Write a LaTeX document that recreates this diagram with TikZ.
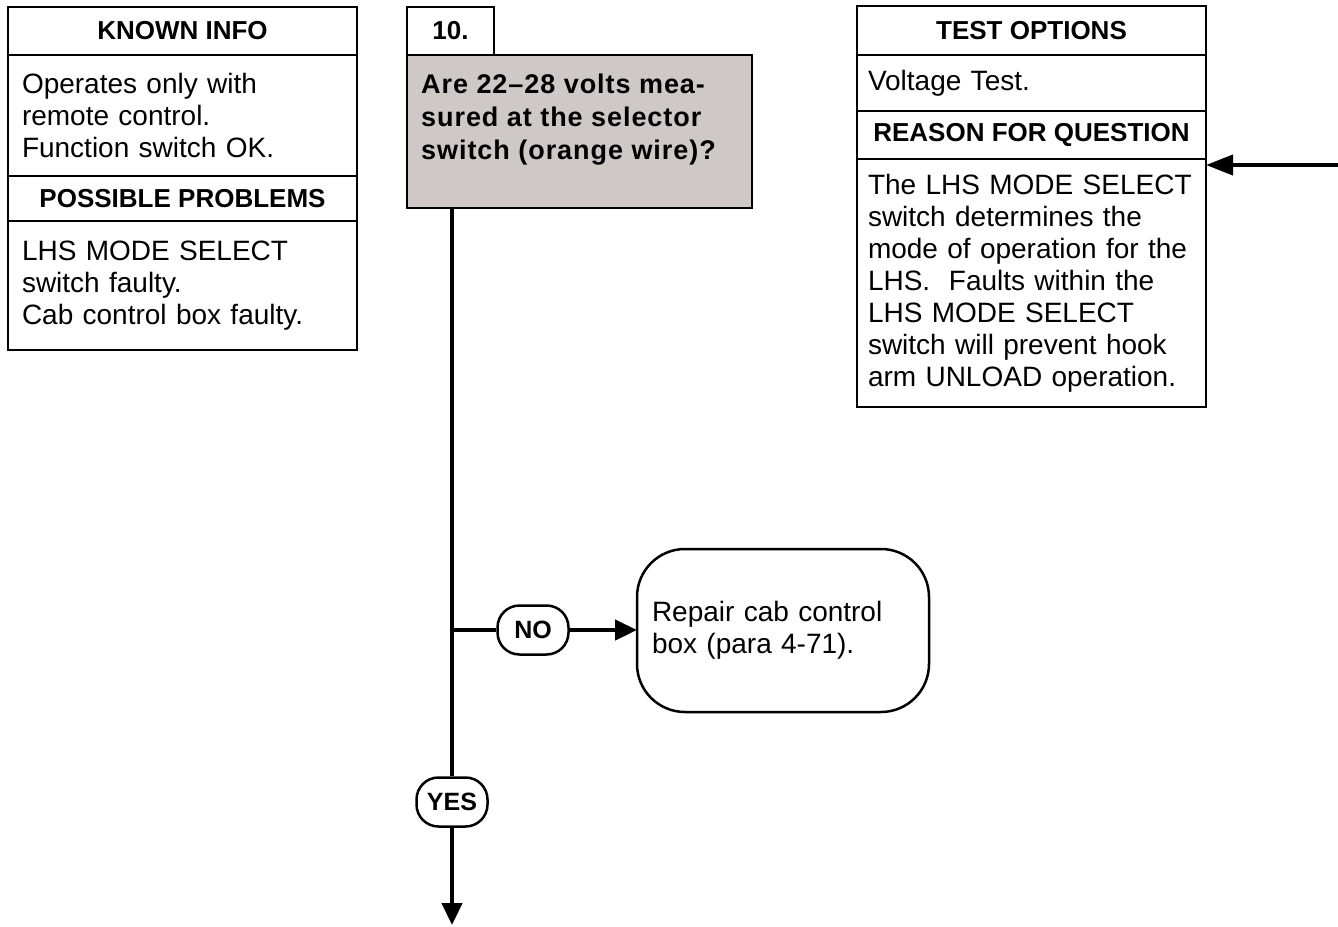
\documentclass[tikz,border=0pt]{standalone}
\usepackage{fontspec}
\setmainfont{Liberation Sans}
\newfontfamily\qfont[LetterSpace=3.5, Ligatures=TeX]{Liberation Sans}
\usetikzlibrary{arrows.meta, positioning}
\definecolor{qgrey}{RGB}{206,200,199}
\tikzstyle{arrow}=[-{Triangle[length=22pt,width=20pt]}, line width=4.5pt]
\tikzstyle{flow}=[line width=4.5pt]

\begin{document}
\begin{tikzpicture}[x=1pt, y=-1pt,
  head/.style={rectangle, draw, line width=2.5pt, outer sep=0pt, inner sep=0pt,
               minimum width=349pt, minimum height=48pt,
               font=\fontsize{26}{30}\selectfont\bfseries},
  body/.style={rectangle, draw, line width=2.5pt, outer sep=0pt, inner xsep=14pt,
               inner ysep=0pt, text width=321pt, align=left,
               font=\fontsize{28}{32}\selectfont},
  pill/.style={rectangle, rounded corners=22pt, draw, line width=2.5pt, fill=white,
               minimum width=71pt, minimum height=49pt, inner sep=0pt,
               font=\fontsize{25}{26}\selectfont\bfseries}
]
\useasboundingbox (0,0) rectangle (1338,926);

% left column
\node[head, anchor=north west] (kihead) at (8,7) {KNOWN INFO};
\node[body, minimum height=121pt, below=0pt of kihead] (kibody)
  {Operates only with\\remote control.\\Function switch OK.};
\node[head, minimum height=45pt, below=0pt of kibody] (pphead) {POSSIBLE PROBLEMS};
\node[body, minimum height=129pt, below=0pt of pphead] (ppbody)
  {LHS MODE SELECT\\switch faulty.\\Cab control box faulty.};

% question
\node[head, minimum width=87pt, anchor=north west] (q10num) at (407,7) {10.};
\node[rectangle, draw, fill=qgrey, line width=2.5pt, outer sep=0pt,
      minimum width=345pt, minimum height=153pt, anchor=north west] (q10) at (407,55) {};
\node[align=left, inner sep=0pt, font=\qfont\fontsize{27}{33}\selectfont\bfseries,
      below right=19pt and 14pt of q10.north west] (q10txt)
  {Are 22–28 volts mea-\\sured at the selector\\switch (orange wire)?};

% right column
\node[head, minimum height=49pt, anchor=north west] (tohead) at (857,6) {TEST OPTIONS};
\node[body, inner xsep=11pt, text width=327pt, minimum height=56pt, below=0pt of tohead] (tobody)
  {Voltage Test.};
\node[head, below=0pt of tobody] (rqhead) {REASON FOR QUESTION};
\node[body, inner xsep=11pt, text width=327pt, minimum height=248pt, below=0pt of rqhead] (rqbody)
  {The LHS MODE SELECT\\switch determines the\\mode of operation for the\\LHS.\ \ Faults within the\\LHS MODE SELECT\\switch will prevent hook\\arm UNLOAD operation.};

% answers
\node[pill] (no) at (533,630) {NO};
\node[pill] (yes) at (452,802) {YES};
\node[rectangle, rounded corners=48pt, draw, line width=2.5pt, outer sep=0pt,
      minimum height=163pt, text width=262pt, inner xsep=15pt, align=left,
      font=\fontsize{28}{32}\selectfont, anchor=north west] (fix) at (637,549)
  {Repair cab control\\box (para 4-71).};

\coordinate (yesend) at (452,925);
\coordinate (rin) at (1338,165);

\draw[flow] (q10.south -| yes) -- (yes.north);
\draw[arrow] (yes.south) -- (yesend);
\draw[flow] (no -| yes) -- (no.west);
\draw[arrow] (no.east) -- (no.east -| fix.west);
\draw[arrow, -{Triangle[length=27pt,width=20pt]}, line width=4pt] (rin) -- (rin -| rqbody.east);
\end{tikzpicture}
\end{document}
